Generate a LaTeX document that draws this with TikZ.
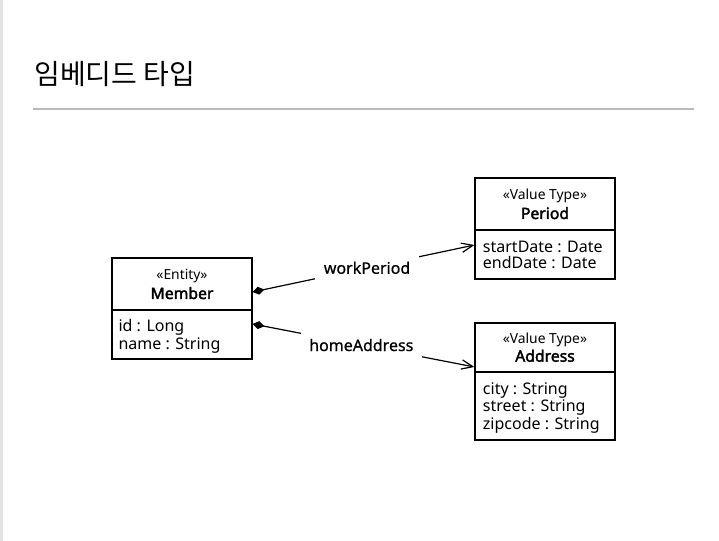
\documentclass[tikz,border=0pt]{standalone}
\usepackage{fontspec}
\setmainfont{Noto Sans}
\newfontfamily\krfont{Noto Sans CJK KR}
\newfontfamily\boldsans{Noto Sans}[FakeBold=2.2]
\newfontfamily\midsans{Noto Sans}[FakeBold=0.7]
\usetikzlibrary{arrows.meta}
\begin{document}
\begin{tikzpicture}[x=0.75pt,y=-0.75pt,
  boxpart/.style={draw=black, line width=0.9pt, inner sep=0pt, minimum width=105pt},
  stereo/.style={anchor=base, inner sep=0pt, font=\fontsize{10.4}{12}\selectfont},
  cname/.style={anchor=base, inner sep=0pt, font=\boldsans\fontsize{11.8}{14}\selectfont},
  attr/.style={anchor=base west, inner sep=0pt, font=\fontsize{12}{14}\selectfont},
  assoc/.style={line width=0.9pt, {Diamond[length=9pt,width=6pt]}-{Straight Barb[length=8.5pt,width=7pt,line width=0.9pt]}},
  lbl/.style={fill=white, inner xsep=6.5pt, inner ysep=5pt, font=\midsans\fontsize{12}{14}\selectfont}]
\useasboundingbox (0,0) rectangle (719,541);
\fill[white] (0,0) rectangle (719,541);
\fill[gray!22] (0,0) rectangle (3,541);
% title
\node[anchor=west, inner sep=0pt, font=\krfont\fontsize{21}{24}\selectfont] (title) at (34,74.5) {임베디드 타입};
\draw[gray!55, line width=1.1pt] (33,109) coordinate (rl) -- (694,109) coordinate (rr);
% Member
\node[boxpart, minimum height=39pt] (mh) at (182,284) {};
\node[boxpart, minimum height=36.75pt] (ma) at (182,334.5) {};
\node[stereo] at (182,279.3) {«Entity»};
\node[cname] at (182,299) {Member};
\node[attr] at (118.3,331.7) {id : Long};
\node[attr] at (118.3,349.3) {name : String};
% Period
\node[boxpart, minimum height=39pt] (ph) at (545,204) {};
\node[boxpart, minimum height=36.75pt] (pa) at (545,254.5) {};
\node[stereo] at (545,200) {«Value Type»};
\node[cname] at (545,219) {Period};
\node[attr] at (482.7,252.7) {startDate : Date};
\node[attr] at (482.7,268.3) {endDate : Date};
% Address
\node[boxpart, minimum height=36.75pt] (ah) at (545,347.5) {};
\node[boxpart, minimum height=51pt] (aa) at (545,406) {};
\node[stereo] at (545,343.3) {«Value Type»};
\node[cname] at (545,361.7) {Address};
\node[attr] at (482.7,395) {city : String};
\node[attr] at (482.7,412) {street : String};
\node[attr] at (482.7,429.5) {zipcode : String};
% associations
\draw[assoc] ([yshift=-6pt]mh.east) -- node[lbl, pos=0.516] {workPeriod} ([yshift=7.1pt]pa.west);
\draw[assoc] ([yshift=7.9pt]ma.east) -- node[lbl, pos=0.49] {homeAddress} ([yshift=-14.6pt]ah.west);
\end{tikzpicture}
\end{document}
